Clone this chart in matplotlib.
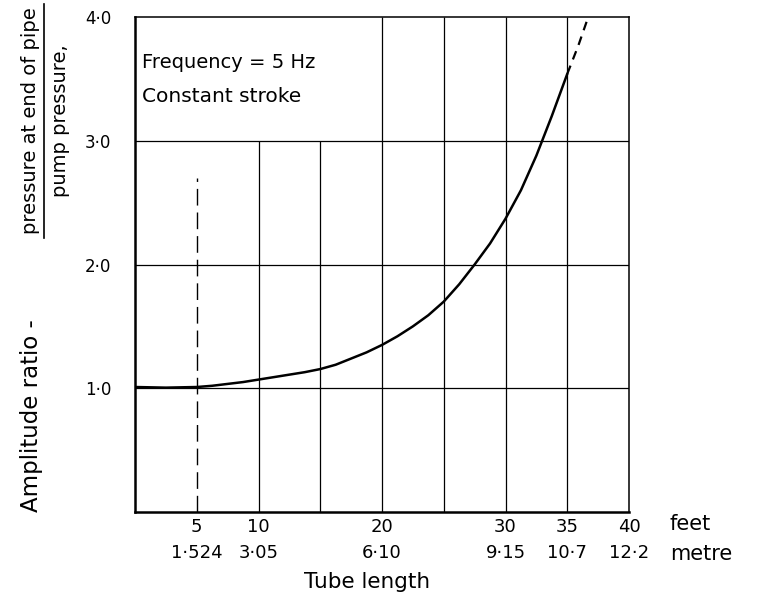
import matplotlib
matplotlib.use("Agg")
import matplotlib.pyplot as plt

# curve (tube length in feet -> amplitude ratio)
tube_ft = [0, 2.5, 5, 6.25, 7.5, 8.75, 10, 11.25, 12.5, 13.75, 15, 16.25,
           17.5, 18.75, 20, 21.25, 22.5, 23.75, 25, 26.25, 27.5, 28.75, 30,
           31.25, 32.5, 33.75, 35]
ratio = [1.01, 1.005, 1.01, 1.02, 1.035, 1.05, 1.07, 1.09, 1.11, 1.13, 1.155,
         1.19, 1.24, 1.29, 1.35, 1.42, 1.50, 1.59, 1.70, 1.84, 2.0, 2.17, 2.37,
         2.60, 2.88, 3.20, 3.54]
# dashed extrapolation beyond 35 ft
ext_ft = [35, 35.9, 36.7]
ext_ratio = [3.54, 3.77, 4.0]

feet_ticks = [5, 10, 20, 30, 35, 40]
metre_labels = ["1·524", "3·05", "6·10", "9·15", "10·7", "12·2"]
y_ticks = [1, 2, 3, 4]
y_labels = ["1·0", "2·0", "3·0", "4·0"]

grid_h = [1, 2, 3]
grid_short = [10, 15]        # stop at 3.0 (text area above)
grid_full = [20, 25, 30, 35]
marker_ft = 5
marker_top = 2.7

W, H = 761, 604
fig = plt.figure(figsize=(W / 100, H / 100), dpi=100)
ax = fig.add_axes([135 / W, 1 - 512 / H, (629 - 135) / W, (512 - 17) / H])
ax.set_xlim(0, 40)
ax.set_ylim(0, 4)

# grid
ax.hlines(grid_h, 0, 40, color="black", lw=0.9)
ax.vlines(grid_short, 0, 3, color="black", lw=0.9)
ax.vlines(grid_full, 0, 4, color="black", lw=0.9)
ax.vlines(marker_ft, 0, marker_top, color="black", lw=1.0,
          linestyles=(0, (12, 5)))

# curve
ax.plot(tube_ft, ratio, color="black", lw=1.8, solid_capstyle="round",
        solid_joinstyle="round")
ax.plot(ext_ft, ext_ratio, color="black", lw=1.6, linestyle=(0, (4, 3)),
        clip_on=False)

for s in ["left", "bottom"]:
    ax.spines[s].set_linewidth(1.8)
for s in ["top", "right"]:
    ax.spines[s].set_linewidth(1.1)

ax.set_yticks(y_ticks)
ax.set_yticklabels(y_labels, fontsize=12)
ax.set_xticks(feet_ticks)
ax.set_xticklabels([f"{f}\n{m}" for f, m in zip(feet_ticks, metre_labels)],
                   fontsize=13, linespacing=1.6)
ax.tick_params(axis="y", length=0, pad=17)
ax.tick_params(axis="x", length=0, pad=4)

ax.text(0.6, 3.63, "Frequency = 5 Hz", fontsize=14, va="center", ha="left")
ax.text(0.6, 3.36, "Constant stroke", fontsize=14.5, va="center", ha="left")

# unit labels and axis titles
fig.text(670 / W, 1 - 524 / H, "feet", fontsize=15, ha="left", va="center")
fig.text(670 / W, 1 - 554 / H, "metre", fontsize=15, ha="left", va="center")
fig.text(367 / W, 1 - 582 / H, "Tube length", fontsize=15.5, ha="center",
         va="center")

fig.text(32 / W, 1 - 512 / H, "Amplitude ratio -", fontsize=16.5, rotation=90,
         ha="center", va="bottom")
fig.text(31 / W, 1 - 121 / H, "pressure at end of pipe", fontsize=14,
         rotation=90, ha="center", va="center")
fig.add_artist(plt.Line2D([44 / W, 44 / W], [1 - 238 / H, 1 - 4 / H],
                          color="black", lw=1.2))
fig.text(61 / W, 1 - 121 / H, "pump pressure,", fontsize=14, rotation=90,
         ha="center", va="center")

fig.savefig("out.png", dpi=100)
